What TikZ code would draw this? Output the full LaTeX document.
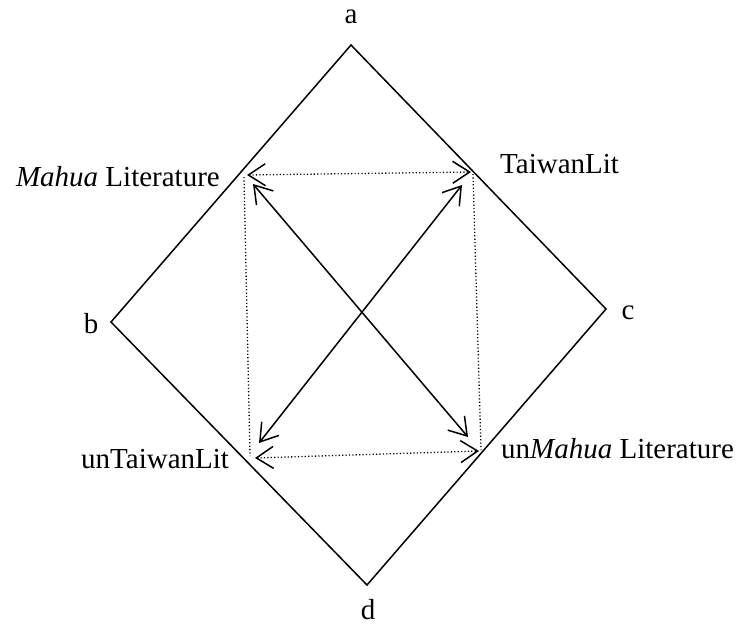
\documentclass[tikz,border=0pt]{standalone}
\usepackage{fontspec}
\setmainfont{Liberation Serif}
\usetikzlibrary{arrows.meta}
\begin{document}
\begin{tikzpicture}[x=1pt,y=-1pt,
  lbl/.style={inner sep=0pt,font=\fontsize{29}{33}\selectfont},
  edge/.style={line width=1.5pt},
  dotline/.style={line width=1.3pt,dash pattern=on 1.2pt off 2.2pt},
  tip/.style={{Straight Barb[length=17pt,width=22pt,line width=1.5pt]}-{Straight Barb[length=17pt,width=22pt,line width=1.5pt]}}]
\useasboundingbox (0,0) rectangle (738,625);
% diamond vertices
\coordinate (A) at (351,45);
\coordinate (B) at (111,322);
\coordinate (C) at (606,309);
\coordinate (D) at (367,585);
\draw[edge] (A) -- (C) -- (D) -- (B) -- cycle;
% labels of vertices
\node[lbl,anchor=base] (la) at (351,23) {a};
\node[lbl,anchor=base] (lb) at (91,333) {b};
\node[lbl,anchor=base] (lc) at (628,319) {c};
\node[lbl,anchor=base] (ld) at (368,619) {d};
% corner labels
\node[lbl,anchor=base east] (mahua) at (220,186) {\textit{Mahua} Literature};
\node[lbl,anchor=base west] (taiwan) at (500,173) {TaiwanLit};
\node[lbl,anchor=base west] (untaiwan) at (81,468) {unTaiwanLit};
\node[lbl,anchor=base west] (unmahua) at (501,458) {un\textit{Mahua} Literature};
% inner rectangle points
\coordinate (tlA) at (247,175);
\coordinate (trA) at (471,172);
\coordinate (blA) at (255,458);
\coordinate (brA) at (479,451);
\coordinate (tlV) at (244,177);
\coordinate (blV) at (250,456);
\coordinate (trV) at (473,174);
\coordinate (brV) at (481,450);
% dotted sides
\draw[dotline,tip] (tlA) -- (trA);
\draw[dotline,tip] (blA) -- (brA);
\draw[dotline] (tlV) -- (blV);
\draw[dotline] (trV) -- (brV);
% diagonals
\coordinate (d1a) at (253,184);
\coordinate (d1b) at (468,437);
\coordinate (d2a) at (462,185);
\coordinate (d2b) at (259,443);
\draw[edge,tip] (d1a) -- (d1b);
\draw[edge,tip] (d2a) -- (d2b);
\end{tikzpicture}
\end{document}
